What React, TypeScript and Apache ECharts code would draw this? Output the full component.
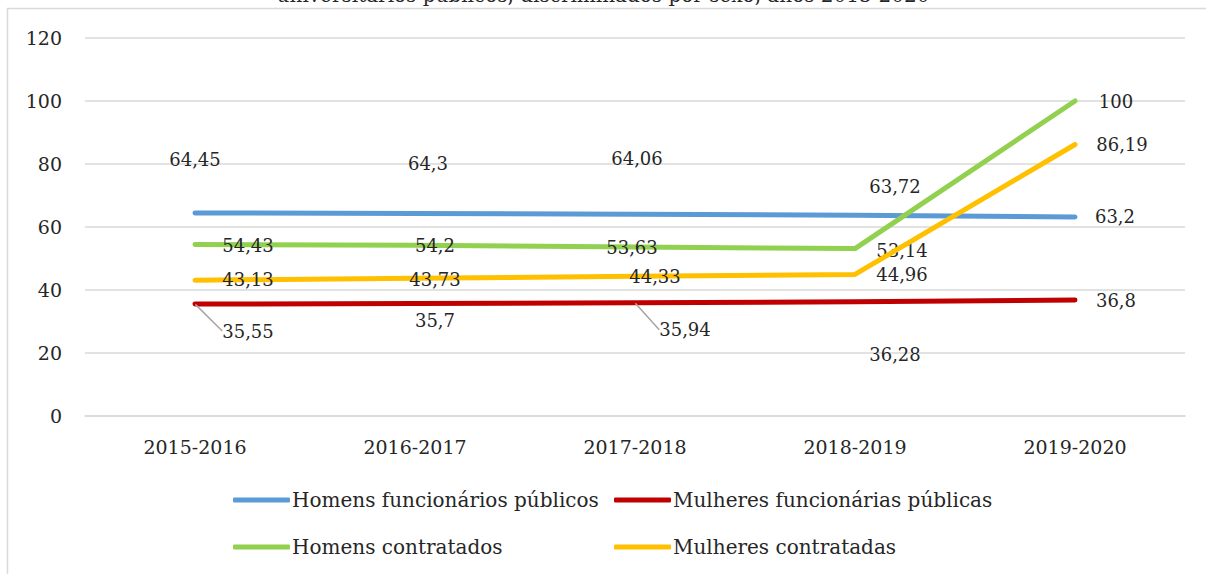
import React, { useEffect, useRef } from "react";
import * as echarts from "echarts";

const categories = ["2015-2016", "2016-2017", "2017-2018", "2018-2019", "2019-2020"];
const homensFunc = [64.45, 64.3, 64.06, 63.72, 63.2];
const mulheresFunc = [35.55, 35.7, 35.94, 36.28, 36.8];
const homensContr = [54.43, 54.2, 53.63, 53.14, 100];
const mulheresContr = [43.13, 43.73, 44.33, 44.96, 86.19];
const seriesNames = [
  "Homens funcionários públicos",
  "Mulheres funcionárias públicas",
  "Homens contratados",
  "Mulheres contratadas",
];
const titleText = "universitários públicos, discriminados por sexo, anos 2015-2020";

// label offsets (style only): [dx, dy] from each point
const labelOffsets = [
  [[0, -53], [13, -50], [2, -56], [40, -29], [40, 0]],
  [[53, 27], [20, 17], [50, 27], [40, 53], [41, 0]],
  [[53, 1], [20, 0], [-3, 0], [47, 2], [41, 0]],
  [[53, -1], [20, 1], [20, 0], [47, 0], [47, 0]],
];
const leaderLines = [[], [0, 2], [], []];

const FONT = "DejaVu Serif";
const fmt = (v: number) => String(v).replace(".", ",");

export default function App() {
  const ref = useRef<HTMLDivElement>(null);
  useEffect(() => {
    document.body.style.margin = "0";
    const chart = echarts.init(ref.current!, undefined, { renderer: "svg" });
    const colors = ["#5b9bd5", "#c00000", "#92d050", "#ffc000"];
    const values = [homensFunc, mulheresFunc, homensContr, mulheresContr];
    const series = values.map((arr, si) => ({
      name: seriesNames[si],
      type: "line",
      data: arr.map((v, di) => ({
        value: v,
        labelLine: { show: leaderLines[si].includes(di) },
      })),
      symbol: "circle",
      symbolSize: 1,
      showSymbol: true,
      itemStyle: { color: colors[si] },
      lineStyle: { width: 5, color: colors[si], cap: "round", join: "round" },
      label: {
        show: true,
        position: "inside",
        align: "center",
        verticalAlign: "middle",
        formatter: (p: any) => fmt(p.value),
        color: "#262626",
        fontFamily: FONT,
        fontSize: 18,
      },
      labelLine: { show: false, lineStyle: { color: "#a6a6a6", width: 1.5 } },
      labelLayout: (p: any) => {
        const o = labelOffsets[si][p.dataIndex];
        return { dx: o[0], dy: o[1] };
      },
      z: 2 + si,
    }));
    const legendBase = {
      orient: "vertical",
      top: 490,
      padding: 0,
      itemWidth: 57,
      itemHeight: 5,
      itemGap: 27,
      icon: "roundRect",
      textStyle: { color: "#262626", fontFamily: FONT, fontSize: 20, padding: [0, 0, 0, -3] },
    };
    chart.setOption({
      animation: false,
      textStyle: { fontFamily: FONT },
      graphic: [
        {
          type: "rect",
          shape: { x: 7.5, y: 8.5, width: 1300, height: 700 },
          style: { fill: "none", stroke: "#d9d9d9", lineWidth: 1.5 },
          silent: true,
        },
        {
          type: "text",
          left: "center",
          top: -15,
          style: { text: titleText, font: `20px ${FONT}`, fill: "#262626" },
        },
      ],
      grid: { left: 85, right: 21, top: 38, bottom: 158, containLabel: false },
      xAxis: {
        type: "category",
        data: categories,
        boundaryGap: true,
        axisLine: { show: true, lineStyle: { color: "#d9d9d9", width: 1.5 } },
        axisTick: { show: false },
        axisLabel: { color: "#262626", fontFamily: FONT, fontSize: 19, margin: 21 },
      },
      yAxis: {
        type: "value",
        min: 0,
        max: 120,
        interval: 20,
        axisLine: { show: false },
        axisTick: { show: false },
        splitLine: { lineStyle: { color: "#d9d9d9", width: 1.5 } },
        axisLabel: { color: "#262626", fontFamily: FONT, fontSize: 19, margin: 23 },
      },
      legend: [
        { ...legendBase, left: 233, data: [seriesNames[0], seriesNames[2]] },
        { ...legendBase, left: 614, data: [seriesNames[1], seriesNames[3]] },
      ],
      series,
    });
    return () => chart.dispose();
  }, []);
  return <div ref={ref} style={{ width: 1206, height: 574 }} />;
}
